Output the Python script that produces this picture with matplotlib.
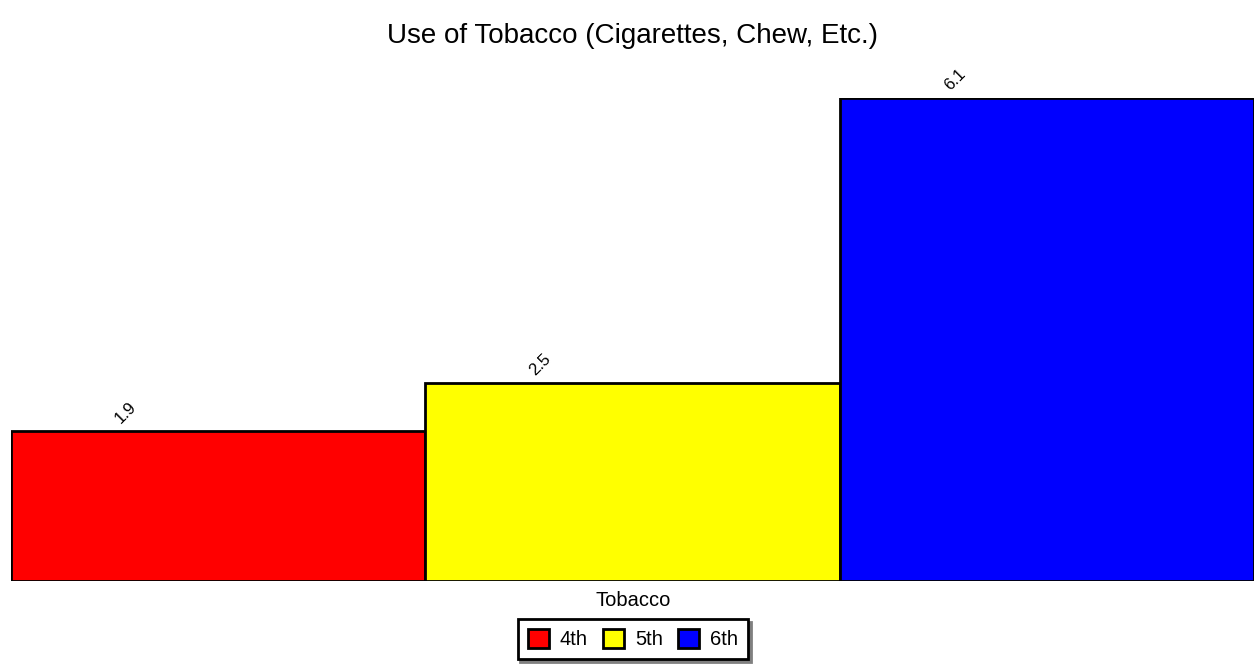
import matplotlib
matplotlib.use("Agg")
import matplotlib.pyplot as plt
from matplotlib.patches import Patch

plt.rcParams['font.family'] = ['Liberation Sans', 'DejaVu Sans']

title = "Use of Tobacco (Cigarettes, Chew, Etc.)"
xlabel = "Tobacco"
series = ["4th", "5th", "6th"]
values = [1.9, 2.5, 6.1]
colors = ["#ff0000", "#ffff00", "#0000ff"]

W, H = 1254, 664
fig = plt.figure(figsize=(W / 100, H / 100), dpi=100)
ax = fig.add_axes([11 / W, (H - 581) / H, (1254 - 11) / W, (581 - 98) / H])

xs = list(range(len(values)))
ax.bar(xs, values, width=1.0, color=colors, edgecolor="black", linewidth=2, align="center")
ax.set_xlim(-0.5, len(values) - 0.5)
ax.set_ylim(0, max(values))
for x, v in zip(xs, values):
    ax.text(x - 0.222, v + 0.06, f"{v}", rotation=45, ha="center", va="bottom",
            fontsize=12, clip_on=False)
for s in ax.spines.values():
    s.set_visible(False)
ax.set_xticks([])
ax.set_yticks([])

fig.text(0.504, 1 - 36 / H, title, ha="center", va="center", fontsize=20)
fig.text(0.505, 1 - 601 / H, xlabel, ha="center", va="center", fontsize=14.5)

handles = [Patch(facecolor=c, edgecolor="black", linewidth=2, label=s) for c, s in zip(colors, series)]
leg = fig.legend(handles=handles, loc="center", bbox_to_anchor=(633 / W, 1 - 639 / H), ncol=3,
                 frameon=True, fancybox=False, shadow={'color': '#808080', 'alpha': 1},
                 fontsize=14.5, handlelength=1.05, handleheight=1.05, handletextpad=0.55,
                 columnspacing=0.75, borderpad=0.5, borderaxespad=0, edgecolor="black", framealpha=1)
leg.get_frame().set_linewidth(2)

fig.savefig("out.png", dpi=100)
